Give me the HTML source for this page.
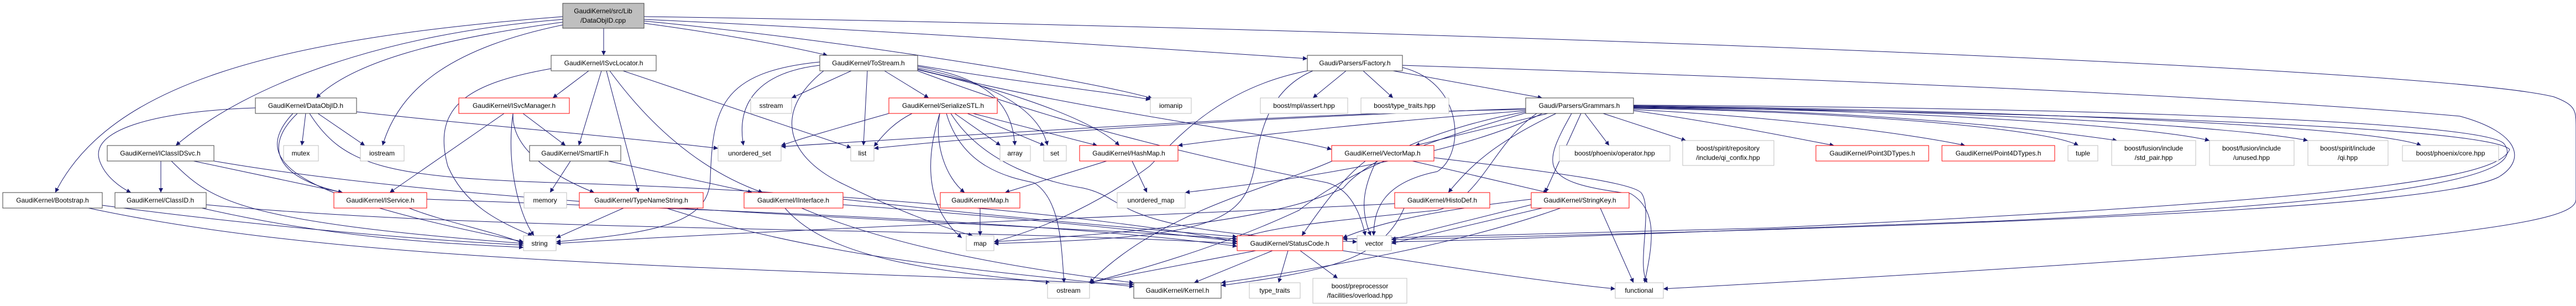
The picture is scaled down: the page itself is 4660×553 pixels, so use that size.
<!DOCTYPE html>
<html><head><meta charset="utf-8"><style>
html,body{margin:0;padding:0;background:#fff;}
svg{display:block;}
text{font-family:"Liberation Sans",sans-serif;font-size:12px;fill:#000;}
</style></head><body>
<svg width="4660" height="553" viewBox="0 0 4660 553" xmlns="http://www.w3.org/2000/svg">
<defs>
<marker id="a" viewBox="0 0 10 10" refX="10" refY="5" markerWidth="10" markerHeight="8" markerUnits="userSpaceOnUse" orient="auto">
<path d="M0,0 L10,5 L0,10 z" fill="#191970"/>
</marker>
</defs>
<g fill="none" stroke="#191970" stroke-width="1" marker-end="url(#a)">
<!-- root -->
<path d="M1092,51 L1092,100"/>
<path d="M1165,42 C1300,60 1420,82 1497,100"/>
<path d="M1165,35 C1700,60 2200,95 2365,106"/>
<path d="M1165,38 C1500,70 1950,140 2085,178"/>
<path d="M1165,30 C2500,50 4400,120 4620,175 C4660,190 4660,200 4660,230 L4660,360 C4660,400 4500,440 3009,522"/>
<path d="M1018,40 C800,70 640,110 572,177"/>
<path d="M1018,35 C700,60 450,150 318,263"/>
<path d="M1018,30 C500,70 200,150 100,348"/>
<path d="M1018,45 C800,90 720,170 692,263"/>
<!-- DataObjID -->
<path d="M553,205 L546,263"/>
<path d="M575,205 L660,263"/>
<path d="M462,195 C300,200 160,230 180,290 C190,320 220,340 237,348"/>
<path d="M538,205 C480,260 490,320 620,348"/>
<path d="M530,205 C440,300 560,360 947,437"/>
<path d="M645,202 C800,220 1100,245 1299,268"/>
<path d="M560,205 C620,300 700,320 1000,330 C1500,345 2000,390 2238,437"/>
<!-- IClassIDSvc -->
<path d="M291,291 L291,348"/>
<path d="M350,291 L620,348"/>
<path d="M310,291 C380,360 420,400 947,440"/>
<path d="M387,291 C900,380 1800,400 2238,432"/>
<!-- Bootstrap, ClassID, IService -->
<path d="M185,371 C400,400 700,430 947,443"/>
<path d="M160,376 C600,470 1200,480 2051,514"/>
<path d="M365,376 C600,430 800,440 947,447"/>
<path d="M373,370 C900,420 1700,410 2238,440"/>
<path d="M740,376 C800,400 900,420 947,440"/>
<path d="M772,360 C1300,380 1900,400 2238,445"/>
<!-- ISvcLocator -->
<path d="M1065,128 L1000,177"/>
<path d="M1088,128 L1047,263"/>
<path d="M1097,128 L1155,348"/>
<path d="M1103,128 C1200,260 1300,320 1380,348"/>
<path d="M1127,128 L1540,267"/>
<path d="M997,124 C850,150 780,190 810,300 C840,370 900,400 963,426"/>
<!-- ISvcManager -->
<path d="M946,205 L1023,263"/>
<path d="M928,205 C925,260 980,310 1075,348"/>
<path d="M928,205 C915,300 940,390 966,426"/>
<path d="M912,205 L705,348"/>
<!-- SmartIF, TypeNameString, IInterface -->
<path d="M1032,291 L995,348"/>
<path d="M1100,291 L1361,348"/>
<path d="M1128,376 L1006,430"/>
<path d="M1205,376 C1500,470 1800,490 2051,518"/>
<path d="M1525,370 C1800,390 2000,410 2238,436"/>
<path d="M1450,376 C1600,440 1800,480 2051,511"/>
<path d="M1420,376 C1500,470 1700,490 1900,511"/>
<path d="M1525,360 C1700,380 1900,400 2238,428"/>
<!-- ToStream -->
<path d="M1540,128 L1432,177"/>
<path d="M1483,118 C1380,130 1330,180 1345,263"/>
<path d="M1569,128 L1562,263"/>
<path d="M1483,112 C1300,130 1290,200 1285,320 C1285,400 1200,420 1006,437"/>
<path d="M1600,128 L1680,177"/>
<path d="M1660,120 C1780,140 1830,180 1836,263"/>
<path d="M1660,123 C1800,150 1880,200 1895,263"/>
<path d="M1660,126 C1850,170 1980,220 2025,263"/>
<path d="M1660,118 C1850,150 2000,165 2081,180"/>
<path d="M1660,125 C1950,200 2300,240 2409,270"/>
<path d="M1660,128 C1800,180 2000,250 2400,330 C2440,340 2460,380 2470,426"/>
<path d="M1490,128 C1400,200 1420,280 1520,330 C1600,370 1700,410 1760,426"/>
<!-- SerializeSTL -->
<path d="M1727,205 L1810,263"/>
<path d="M1750,205 L1890,263"/>
<path d="M1760,205 L1985,263"/>
<path d="M1700,205 C1690,260 1710,320 1745,348"/>
<path d="M1700,205 C1670,300 1680,380 1740,430"/>
<path d="M1712,205 C1740,300 1820,320 1870,330 C1920,360 1920,450 1925,511"/>
<path d="M1650,205 C1620,220 1600,240 1581,265"/>
<path d="M1608,205 C1520,230 1450,250 1413,263"/>
<path d="M1720,205 C1780,300 1900,330 1960,340 C2050,360 2000,420 2455,437"/>
<!-- HashMap, Map -->
<path d="M2002,291 L1818,348"/>
<path d="M2048,291 L2075,348"/>
<path d="M1773,376 L1773,426"/>
<!-- StatusCode -->
<path d="M2272,453 L1968,511"/>
<path d="M2302,453 L2160,511"/>
<path d="M2330,453 L2313,511"/>
<path d="M2352,453 L2420,503"/>
<path d="M2429,453 C2600,480 2800,510 2922,522"/>
<!-- Factory -->
<path d="M2435,128 L2375,177"/>
<path d="M2466,128 L2520,177"/>
<path d="M2520,128 L2790,177"/>
<path d="M2537,122 C2650,150 2650,280 2600,310 C2500,330 2485,380 2485,426"/>
<path d="M2365,128 C2200,160 2120,260 2080,300 C2000,360 1900,410 1798,437"/>
<path d="M2375,128 C2300,160 2280,230 2270,300 C2250,400 2200,430 1798,440"/>
<path d="M2537,118 C3200,140 4000,170 4450,210 C4560,240 4570,290 4520,320 C4400,380 3500,410 2517,433"/>
<!-- Grammars -->
<path d="M2800,205 L2560,263"/>
<path d="M2867,205 L2911,263"/>
<path d="M2900,205 L3050,254"/>
<path d="M2815,205 C2700,260 2660,300 2620,348"/>
<path d="M2860,205 L2795,348"/>
<path d="M2843,205 C2790,300 2780,330 2950,350 C3000,380 2990,440 2975,511"/>
<path d="M2955,200 C3100,220 3250,250 3318,263"/>
<path d="M2955,198 C3200,210 3450,240 3555,263"/>
<path d="M2955,196 C3300,200 3700,230 3760,263"/>
<path d="M2955,195 C3400,200 3700,235 3830,254"/>
<path d="M2955,193 C3500,200 3900,230 3997,254"/>
<path d="M2955,192 C3600,200 4050,230 4175,254"/>
<path d="M2955,191 C3700,200 4300,230 4380,263"/>
<path d="M2955,190 C3800,195 4500,220 4530,260 C4560,300 4500,360 3600,400 C3000,420 2700,435 2517,437"/>
<path d="M2955,194 C3800,205 4500,230 4540,270 C4520,320 4300,360 3200,412 C2800,420 2500,430 2429,432"/>
<path d="M2760,198 C2550,200 2200,215 1413,265"/>
<path d="M2760,196 C2500,205 2000,225 1581,268"/>
<path d="M2760,200 C2500,220 2300,240 2131,263"/>
<path d="M2760,202 C2600,230 2470,290 2430,340 C2300,400 2050,420 1798,437"/>
<path d="M2780,205 C2700,260 2680,360 2600,380 C2400,400 2300,410 2238,432"/>
<path d="M2790,205 C2600,300 2200,340 2144,348"/>
<path d="M2760,204 C2600,250 2450,300 2350,380 C2200,450 2050,490 1971,511"/>
<!-- VectorMap -->
<path d="M2470,291 C2420,330 2380,390 2355,426"/>
<path d="M2490,291 C2465,340 2460,380 2480,426"/>
<path d="M2555,291 L2800,348"/>
<path d="M2594,285 C2800,310 2960,330 2970,350 C2990,380 2960,480 2980,511"/>
<path d="M2410,291 C2300,340 2100,380 1971,511"/>
<!-- HistoDef, StringKey -->
<path d="M2523,368 C2100,390 1500,410 1006,440"/>
<path d="M2540,376 C2500,470 2400,490 2209,516"/>
<path d="M2770,370 L2517,433"/>
<path d="M2790,376 L2517,440"/>
<path d="M2895,376 L2955,511"/>
<path d="M2823,376 C2700,420 2500,470 2209,511"/>
<path d="M2770,360 C2600,380 2500,400 2429,430"/>
</g>
<!-- nodes -->
<g stroke-width="1">
<rect x="1018" y="6" width="147" height="45" fill="#bfbfbf" stroke="#404040"/>
<text x="1091" y="24" text-anchor="middle">GaudiKernel/src/Lib</text>
<text x="1091" y="41" text-anchor="middle">/DataObjID.cpp</text>
</g>
<g fill="#fff" stroke-width="1">
<rect x="997" y="100" width="190" height="28" stroke="#404040"/>
<rect x="1483" y="100" width="177" height="28" stroke="#404040"/>
<rect x="2365" y="100" width="172" height="28" stroke="#404040"/>
<rect x="462" y="177" width="183" height="28" stroke="#404040"/>
<rect x="830" y="177" width="200" height="28" stroke="#ff0000"/>
<rect x="1358" y="177" width="74" height="28" stroke="#bfbfbf"/>
<rect x="1608" y="177" width="196" height="28" stroke="#ff0000"/>
<rect x="2081" y="177" width="74" height="28" stroke="#bfbfbf"/>
<rect x="2280" y="177" width="158" height="28" stroke="#bfbfbf"/>
<rect x="2462" y="177" width="159" height="28" stroke="#bfbfbf"/>
<rect x="2760" y="177" width="195" height="28" stroke="#404040"/>
<rect x="194" y="263" width="193" height="28" stroke="#404040"/>
<rect x="513" y="263" width="63" height="28" stroke="#bfbfbf"/>
<rect x="652" y="263" width="79" height="28" stroke="#bfbfbf"/>
<rect x="958" y="263" width="165" height="28" stroke="#404040"/>
<rect x="1299" y="263" width="114" height="28" stroke="#bfbfbf"/>
<rect x="1539" y="263" width="42" height="28" stroke="#bfbfbf"/>
<rect x="1809" y="263" width="55" height="28" stroke="#bfbfbf"/>
<rect x="1888" y="263" width="41" height="28" stroke="#bfbfbf"/>
<rect x="1953" y="263" width="178" height="28" stroke="#ff0000"/>
<rect x="2409" y="263" width="185" height="28" stroke="#ff0000"/>
<rect x="2821" y="263" width="200" height="28" stroke="#bfbfbf"/>
<rect x="3044" y="254" width="165" height="45" stroke="#bfbfbf"/>
<rect x="3285" y="263" width="204" height="28" stroke="#ff0000"/>
<rect x="3513" y="263" width="204" height="28" stroke="#ff0000"/>
<rect x="3741" y="263" width="54" height="28" stroke="#bfbfbf"/>
<rect x="3820" y="254" width="152" height="45" stroke="#bfbfbf"/>
<rect x="3997" y="254" width="153" height="45" stroke="#bfbfbf"/>
<rect x="4175" y="254" width="145" height="45" stroke="#bfbfbf"/>
<rect x="4346" y="263" width="174" height="28" stroke="#bfbfbf"/>
<rect x="5" y="348" width="180" height="28" stroke="#404040"/>
<rect x="208" y="348" width="165" height="28" stroke="#404040"/>
<rect x="604" y="348" width="168" height="28" stroke="#ff0000"/>
<rect x="948" y="348" width="77" height="28" stroke="#bfbfbf"/>
<rect x="1048" y="348" width="224" height="28" stroke="#ff0000"/>
<rect x="1346" y="348" width="179" height="28" stroke="#ff0000"/>
<rect x="1701" y="348" width="144" height="28" stroke="#ff0000"/>
<rect x="2021" y="348" width="123" height="28" stroke="#bfbfbf"/>
<rect x="2523" y="348" width="172" height="28" stroke="#ff0000"/>
<rect x="2770" y="348" width="177" height="28" stroke="#ff0000"/>
<rect x="947" y="426" width="59" height="27" stroke="#bfbfbf"/>
<rect x="1748" y="426" width="50" height="27" stroke="#bfbfbf"/>
<rect x="2238" y="426" width="191" height="27" stroke="#ff0000"/>
<rect x="2455" y="426" width="62" height="27" stroke="#bfbfbf"/>
<rect x="1895" y="511" width="76" height="28" stroke="#bfbfbf"/>
<rect x="2051" y="511" width="158" height="28" stroke="#404040"/>
<rect x="2260" y="511" width="92" height="28" stroke="#bfbfbf"/>
<rect x="2375" y="503" width="170" height="45" stroke="#bfbfbf"/>
<rect x="2922" y="511" width="87" height="28" stroke="#bfbfbf"/>
</g>
<g text-anchor="middle">
<text x="1092" y="118">GaudiKernel/ISvcLocator.h</text>
<text x="1571" y="118">GaudiKernel/ToStream.h</text>
<text x="2451" y="118">Gaudi/Parsers/Factory.h</text>
<text x="553" y="195">GaudiKernel/DataObjID.h</text>
<text x="930" y="195">GaudiKernel/ISvcManager.h</text>
<text x="1395" y="195">sstream</text>
<text x="1706" y="195">GaudiKernel/SerializeSTL.h</text>
<text x="2118" y="195">iomanip</text>
<text x="2359" y="195">boost/mpl/assert.hpp</text>
<text x="2541" y="195">boost/type_traits.hpp</text>
<text x="2857" y="195">Gaudi/Parsers/Grammars.h</text>
<text x="290" y="281">GaudiKernel/IClassIDSvc.h</text>
<text x="544" y="281">mutex</text>
<text x="691" y="281">iostream</text>
<text x="1040" y="281">GaudiKernel/SmartIF.h</text>
<text x="1356" y="281">unordered_set</text>
<text x="1560" y="281">list</text>
<text x="1836" y="281">array</text>
<text x="1908" y="281">set</text>
<text x="2042" y="281">GaudiKernel/HashMap.h</text>
<text x="2501" y="281">GaudiKernel/VectorMap.h</text>
<text x="2921" y="281">boost/phoenix/operator.hpp</text>
<text x="3126" y="272">boost/spirit/repository</text>
<text x="3126" y="289">/include/qi_confix.hpp</text>
<text x="3387" y="281">GaudiKernel/Point3DTypes.h</text>
<text x="3615" y="281">GaudiKernel/Point4DTypes.h</text>
<text x="3768" y="281">tuple</text>
<text x="3896" y="272">boost/fusion/include</text>
<text x="3896" y="289">/std_pair.hpp</text>
<text x="4073" y="272">boost/fusion/include</text>
<text x="4073" y="289">/unused.hpp</text>
<text x="4247" y="272">boost/spirit/include</text>
<text x="4247" y="289">/qi.hpp</text>
<text x="4433" y="281">boost/phoenix/core.hpp</text>
<text x="95" y="366">GaudiKernel/Bootstrap.h</text>
<text x="290" y="366">GaudiKernel/ClassID.h</text>
<text x="688" y="366">GaudiKernel/IService.h</text>
<text x="986" y="366">memory</text>
<text x="1160" y="366">GaudiKernel/TypeNameString.h</text>
<text x="1435" y="366">GaudiKernel/IInterface.h</text>
<text x="1773" y="366">GaudiKernel/Map.h</text>
<text x="2082" y="366">unordered_map</text>
<text x="2609" y="366">GaudiKernel/HistoDef.h</text>
<text x="2858" y="366">GaudiKernel/StringKey.h</text>
<text x="976" y="444">string</text>
<text x="1773" y="444">map</text>
<text x="2333" y="444">GaudiKernel/StatusCode.h</text>
<text x="2486" y="444">vector</text>
<text x="1933" y="529">ostream</text>
<text x="2130" y="529">GaudiKernel/Kernel.h</text>
<text x="2306" y="529">type_traits</text>
<text x="2460" y="521">boost/preprocessor</text>
<text x="2460" y="538">/facilities/overload.hpp</text>
<text x="2965" y="529">functional</text>
</g>
</svg>
</body></html>
